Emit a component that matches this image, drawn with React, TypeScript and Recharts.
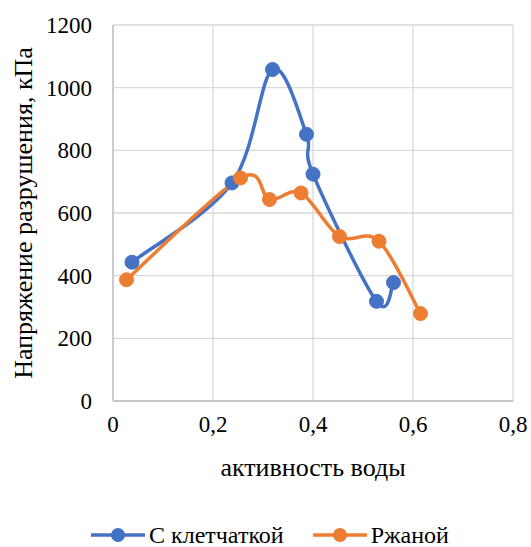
import { LineChart, Line, XAxis, YAxis, CartesianGrid, Legend } from 'recharts';

// water activity (x) and breaking stress, kPa (y)
const waterActivityFiber = [0.038, 0.238, 0.319, 0.387, 0.4, 0.527, 0.561];
const strengthFiber = [443, 696, 1058, 851, 724, 318, 378];
const waterActivityRye = [0.027, 0.255, 0.313, 0.376, 0.453, 0.532, 0.615];
const strengthRye = [387, 712, 643, 664, 525, 510, 279];

const xTicks = [0, 0.2, 0.4, 0.6, 0.8];
const yTicks = [0, 200, 400, 600, 800, 1000, 1200];

const seriesNames = ['С клетчаткой', 'Ржаной'];
const xTitle = 'активность воды';
const yTitle = 'Напряжение разрушения, кПа';

const BLUE = '#4472C4';
const ORANGE = '#ED7D31';
const FONT = "'Liberation Serif', 'Times New Roman', serif";

const fiberData = waterActivityFiber.map((x, i) => ({ x, y: strengthFiber[i] }));
const ryeData = waterActivityRye.map((x, i) => ({ x, y: strengthRye[i] }));

// Excel-like smoothed line (cardinal bezier through every point)
const smoothCurve = (context: any) => {
    let pts: number[][] = [];
    const t = 1 / 6;
    return {
        areaStart() {},
        areaEnd() {},
        lineStart() { pts = []; },
        point(x: number, y: number) { pts.push([+x, +y]); },
        lineEnd() {
            const n = pts.length;
            if (!n) return;
            context.moveTo(pts[0][0], pts[0][1]);
            for (let i = 0; i < n - 1; i++) {
                const p0 = pts[Math.max(0, i - 1)];
                const p1 = pts[i];
                const p2 = pts[i + 1];
                const p3 = pts[Math.min(n - 1, i + 2)];
                context.bezierCurveTo(
                    p1[0] + (p2[0] - p0[0]) * t, p1[1] + (p2[1] - p0[1]) * t,
                    p2[0] - (p3[0] - p1[0]) * t, p2[1] - (p3[1] - p1[1]) * t,
                    p2[0], p2[1]
                );
            }
        },
    };
};

const renderLegend = () => (
    <div style={{ display: 'flex', justifyContent: 'center', alignItems: 'center', gap: 29, fontFamily: FONT, fontSize: 24, lineHeight: '24px', height: 24, color: '#000', marginLeft: 27 }}>
        {[BLUE, ORANGE].map((c, i) => (
            <div key={i} style={{ display: 'flex', alignItems: 'center' }}>
                <svg width={54} height={16}>
                    <line x1={0} y1={8} x2={54} y2={8} stroke={c} strokeWidth={3.5} />
                    <circle cx={27} cy={8} r={7} fill={c} />
                </svg>
                <span style={{ marginLeft: 4 }}>{seriesNames[i]}</span>
            </div>
        ))}
    </div>
);

const YTitle = (props: any) => {
    const vb = props.viewBox;
    const cx = vb.x + 23;
    const cy = vb.y + vb.height / 2;
    return (
        <text x={cx} y={cy} transform={`rotate(-90, ${cx}, ${cy})`} textAnchor="middle" dominantBaseline="central"
            style={{ fontFamily: FONT, fontSize: 26 }} fill="#000">
            {yTitle}
        </text>
    );
};

function App() {
    const tickStyle = { fontFamily: FONT, fontSize: 23, fill: '#000' };
    return (
        <div style={{ position: 'absolute', left: 0, top: 0, fontFamily: FONT }}>
            <LineChart width={531} height={547} margin={{ top: 25, right: 18, bottom: 0, left: 0 }}>
                <CartesianGrid stroke="#d9d9d9" strokeWidth={1.3} />
                <XAxis
                    type="number"
                    dataKey="x"
                    domain={[0, 0.8]}
                    ticks={xTicks}
                    tickFormatter={(v: number) => String(v).replace('.', ',')}
                    tick={tickStyle}
                    tickLine={false}
                    tickSize={0}
                    tickMargin={15}
                    axisLine={{ stroke: '#bfbfbf', strokeWidth: 1.3 }}
                    height={122}
                    label={{ value: xTitle, position: 'insideBottom', offset: 47, style: { fontFamily: FONT, fontSize: 26, fill: '#000' } }}
                />
                <YAxis
                    type="number"
                    domain={[0, 1200]}
                    ticks={yTicks}
                    tick={tickStyle}
                    tickLine={false}
                    tickSize={0}
                    tickMargin={21}
                    axisLine={{ stroke: '#bfbfbf', strokeWidth: 1.3 }}
                    width={113}
                    label={<YTitle />}
                />
                <Legend verticalAlign="bottom" height={24} content={renderLegend} />
                <Line
                    data={fiberData}
                    dataKey="y"
                    name={seriesNames[0]}
                    type={smoothCurve as any}
                    stroke={BLUE}
                    strokeWidth={3.5}
                    dot={{ r: 7, fill: BLUE, stroke: BLUE, strokeWidth: 1 }}
                    isAnimationActive={false}
                />
                <Line
                    data={ryeData}
                    dataKey="y"
                    name={seriesNames[1]}
                    type={smoothCurve as any}
                    stroke={ORANGE}
                    strokeWidth={3.5}
                    dot={{ r: 7, fill: ORANGE, stroke: ORANGE, strokeWidth: 1 }}
                    isAnimationActive={false}
                />
            </LineChart>
        </div>
    );
}

export default App;
